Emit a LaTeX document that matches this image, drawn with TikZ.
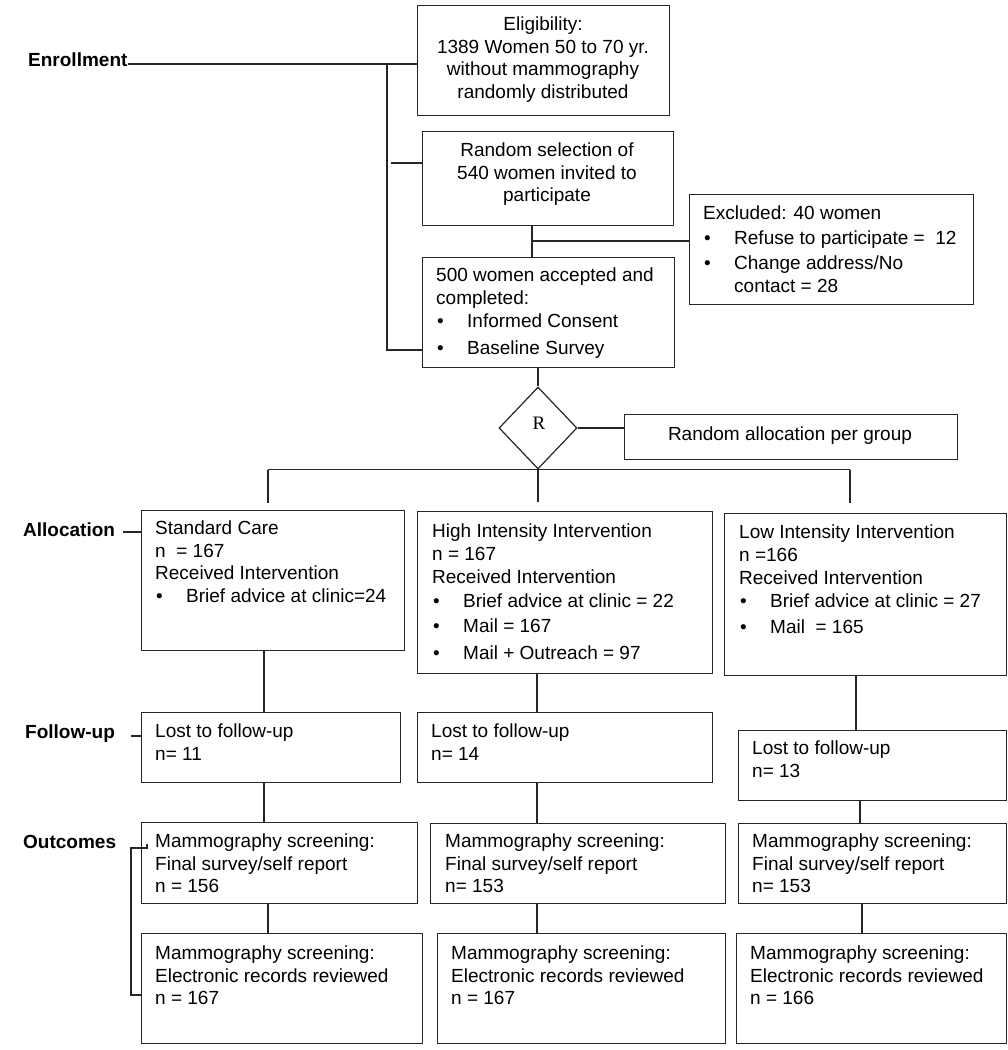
\documentclass[tikz,border=0pt]{standalone}
\usepackage{fontspec}
\setmainfont{Liberation Sans}
\newfontfamily\rfont{Liberation Serif}
\usetikzlibrary{shapes.geometric,calc}
\newcommand\fs{\fontsize{19}{22.5}\selectfont}
\newcommand\bl[1]{\makebox[31pt][l]{\hspace{1pt}\textbullet}#1}
\newcommand\bx[5]{\node[box, minimum width={#4pt-#2pt}, minimum height={#5pt-#3pt}] (#1) at (#2,#3) {};}
\tikzset{
  box/.style={draw=black!85, line width=1.3pt, inner sep=0pt, anchor=north west},
  txt/.style={anchor=north west, inner sep=0pt, align=left, font=\fs},
  ctxt/.style={anchor=north, inner sep=0pt, align=center, font=\fs},
  lab/.style={anchor=base west, inner sep=0pt, font=\fs\bfseries},
  conn/.style={line width=1.2pt, draw=black!85},
}
\begin{document}
\begin{tikzpicture}[x=1pt,y=-1pt]
\useasboundingbox (0,0) rectangle (1008,1050);
% boxes
\bx{elig}{417}{5}{669}{115}
\bx{rsel}{422}{131}{673}{225}
\bx{excl}{689}{194}{973}{304}
\bx{acc}{422}{257}{674}{367}
\node[draw=black!85, line width=1.2pt, diamond, minimum width=78pt, minimum height=82pt, inner sep=0pt] (dia) at (538,428) {};
\node[font=\rfont\fontsize{19}{22}\selectfont, inner sep=0pt] (rtxt) at (539,423) {R};
\bx{ralloc}{624}{414}{957}{459}
\bx{sca}{141}{510}{404}{650}
\bx{hia}{417}{511}{712}{673}
\bx{lia}{724}{513}{1006}{675}
\bx{scf}{141}{712}{400}{782}
\bx{hif}{417}{712}{712}{782}
\bx{lif}{738}{730}{1006}{800}
\bx{sco1}{141}{822}{417}{903}
\bx{hio1}{430}{823}{725}{903}
\bx{lio1}{738}{823}{1006}{903}
\bx{sco2}{141}{933}{422}{1043}
\bx{hio2}{437}{933}{725}{1043}
\bx{lio2}{736}{933}{1006}{1043}
% texts
\node[ctxt] (eligt) at (543,15) {\strut Eligibility:\\1389 Women 50 to 70 yr.\\without mammography\\randomly distributed};
\node[ctxt] (rselt) at (547,141) {\strut Random selection of\\540 women invited to\\participate};
\node[txt] (exclt) at (703,204) {\strut Excluded: 40 women\\[2.5pt]\bl{Refuse to participate =~ 12}\\[2.5pt]\bl{Change address/No}\\\hspace*{31pt}contact = 28};
\node[txt] (acct) at (436,266) {\strut 500 women accepted and\\[0.5pt]completed:\\[0.5pt]\bl{Informed Consent}\\[4.5pt]\bl{Baseline Survey}};
\node[font=\fs, inner sep=0pt] (rallt) at (790,436) {Random allocation per group};
\node[txt] (scat) at (155,519) {\strut Standard Care\\n~ = 167\\Received Intervention\\\bl{Brief advice at clinic=24}};
\node[txt] (hiat) at (432,522) {\strut High Intensity Intervention\\n = 167\\[0.5pt]Received Intervention\\[1.5pt]\bl{Brief advice at clinic = 22}\\[2.5pt]\bl{Mail = 167}\\[4.5pt]\bl{Mail + Outreach = 97}};
\node[txt] (liat) at (739,523) {\strut Low Intensity Intervention\\n =166\\[0.5pt]Received Intervention\\[1pt]\bl{Brief advice at clinic = 27}\\[3pt]\bl{Mail~ = 165}};
\node[txt] (scft) at (155,722) {\strut Lost to follow-up\\n= 11};
\node[txt] (hift) at (431,722) {\strut Lost to follow-up\\n= 14};
\node[txt] (lift) at (752,739) {\strut Lost to follow-up\\n= 13};
\node[txt] (sco1t) at (155,832) {\strut Mammography screening:\\Final survey/self report\\n = 156};
\node[txt] (hio1t) at (445,832) {\strut Mammography screening:\\Final survey/self report\\n= 153};
\node[txt] (lio1t) at (752,832) {\strut Mammography screening:\\Final survey/self report\\n= 153};
\node[txt] (sco2t) at (155,944) {\strut Mammography screening:\\Electronic records reviewed\\n = 167};
\node[txt] (hio2t) at (451,944) {\strut Mammography screening:\\Electronic records reviewed\\n = 167};
\node[txt] (lio2t) at (750,944) {\strut Mammography screening:\\Electronic records reviewed\\n = 166};
% labels
\node[lab] (enr) at (28,66) {Enrollment};
\node[lab] (allo) at (23,536) {Allocation};
\node[lab] (fol) at (25,738) {Follow-up};
\node[lab] (outc) at (23,848) {Outcomes};
% enrollment bracket
\draw[conn] (enr.east |- 0,64) -- (elig.west |- 0,64);
\draw[conn] (387,64) -- (387,350) -- (acc.west |- 0,350);
\draw[conn] (391,163) -- (rsel.west |- 0,163);
% excluded branch
\draw[conn] (532,0 |- rsel.south) -- (532,0 |- acc.north);
\draw[conn] (532,241) -- (excl.west |- 0,241);
% to diamond
\draw[conn] (dia.north |- acc.south) -- (dia.north);
\draw[conn] (dia.east) -- (ralloc.west |- dia.east);
% split
\coordinate (split) at (dia.south);
\draw[conn] (268,0 |- split) -- (850,0 |- split);
\draw[conn, shorten >=7pt] (268,0 |- split) -- (268,0 |- sca.north);
\draw[conn, shorten >=9pt] (split) -- (split |- hia.north);
\draw[conn, shorten >=10pt] (850,0 |- split) -- (850,0 |- lia.north);
% columns
\draw[conn] (264,0 |- sca.south) -- (264,0 |- scf.north);
\draw[conn] (264,0 |- scf.south) -- (264,0 |- sco1.north);
\draw[conn] (268,0 |- sco1.south) -- (268,0 |- sco2.north);
\draw[conn] (537,0 |- hia.south) -- (537,0 |- hif.north);
\draw[conn] (537,0 |- hif.south) -- (537,0 |- hio1.north);
\draw[conn] (537,0 |- hio1.south) -- (537,0 |- hio2.north);
\draw[conn] (856,0 |- lia.south) -- (856,0 |- lif.north);
\draw[conn] (860,0 |- lif.south) -- (860,0 |- lio1.north);
\draw[conn] (862,0 |- lio1.south) -- (862,0 |- lio2.north);
% label ticks
\draw[conn] (123,532) -- (sca.west |- 0,532);
\draw[conn] (131,736) -- (scf.west |- 0,736);
\draw[conn] (147,844) -- (147,848) -- (131,848) -- (131,995) -- (sco2.west |- 0,995);
\end{tikzpicture}
\end{document}
